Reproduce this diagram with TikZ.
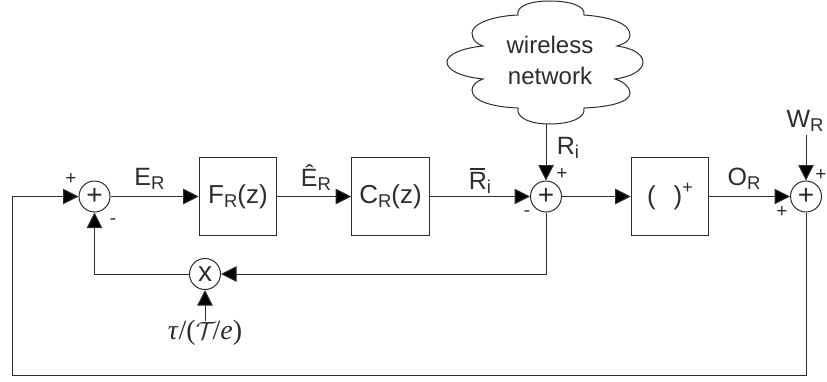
\documentclass[tikz,border=0pt]{standalone}
\usepackage{fontspec}
\setmainfont{Liberation Sans}
\newfontfamily\serifit{Liberation Serif}
\usetikzlibrary{arrows.meta}
\definecolor{ink}{RGB}{45,45,45}
\tikzset{
  x=1pt,y=-1pt,
  wire/.style={draw=ink,line width=1pt},
  arr/.style={wire,-{Triangle[length=15.5pt,width=15.5pt,fill=black]}},
  sumnode/.style={circle,draw=ink,line width=1pt,minimum size=31pt,inner sep=0pt,font=\fontsize{28}{28}\selectfont,text=ink},
  blockbox/.style={rectangle,draw=ink,line width=1.1pt,minimum width=77.5pt,minimum height=77.5pt,inner sep=0pt,font=\fontsize{26}{26}\selectfont,text=ink},
  lab/.style={inner sep=0pt,font=\fontsize{25}{25}\selectfont,text=ink},
  sgn/.style={inner sep=0pt,font=\fontsize{19}{19}\selectfont,text=ink}
}
\newcommand{\sbs}[1]{\raisebox{-4.5pt}{\fontsize{18.5}{18.5}\selectfont #1}}
\begin{document}
\begin{tikzpicture}
\useasboundingbox (0,0) rectangle (827,381);
\node[sumnode] (s1) at (94.5,196.5) {+};
\node[sumnode] (s2) at (546,196.5) {+};
\node[sumnode] (s3) at (806,196.5) {+};
\node[sumnode] (m) at (205,274) {x};
\node[blockbox] (f) at (238,196.5) {F\sbs{R}(z)};
\node[blockbox] (c) at (390.5,196.5) {C\sbs{R}(z)};
\node[blockbox] (p) at (670,196.5) {(\hspace{18pt})\raisebox{11pt}{\fontsize{18}{18}\selectfont +}};
\draw[draw=ink,line width=1pt,fill=white] (518,15)
  .. controls (516,6) and (530,1) .. (550,1)
  .. controls (570,1) and (586,6) .. (584,15)
  .. controls (612,17) and (630,24) .. (630,35)
  .. controls (630,41) and (624,44) .. (617,46)
  .. controls (632,48) and (643,54) .. (643,62)
  .. controls (643,71) and (630,77) .. (615,79)
  .. controls (624,82) and (630,87) .. (630,93)
  .. controls (630,102) and (610,107) .. (584,108)
  .. controls (586,118) and (570,124) .. (550,124)
  .. controls (530,124) and (516,118) .. (518,108)
  .. controls (492,107) and (472,101) .. (472,90)
  .. controls (472,85) and (477,81) .. (483,79)
  .. controls (463,77) and (447,71) .. (447,62)
  .. controls (447,54) and (463,48) .. (483,46)
  .. controls (477,44) and (472,40) .. (472,33)
  .. controls (472,24) and (492,16) .. (518,15) -- cycle;
\coordinate (cb) at (546,124);
\node[lab,anchor=base,font=\fontsize{24}{24}\selectfont] (w1) at (550,53) {wireless};
\node[lab,anchor=base,font=\fontsize{24}{24}\selectfont] (w2) at (550,84) {network};
\coordinate (wr) at (806,135);
\coordinate (bl) at (12,375);
\coordinate (tin) at (205,321);
\draw[arr] (s1) -- (f);
\draw[arr] (f) -- (c);
\draw[arr] (c) -- (s2);
\draw[arr] (s2) -- (p);
\draw[arr] (p) -- (s3);
\draw[arr] (cb) -- (s2);
\draw[arr] (wr) -- (s3);
\draw[arr] (s2.south) |- (m);
\draw[arr] (m) -| (s1);
\draw[arr] (tin) -- (m);
\draw[wire] (s3.south) |- (bl) -- (12,196.5) coordinate (lft);
\draw[arr] (lft) -- (s1);
\node[lab,anchor=base] (er) at (149.5,185) {E\sbs{R}};
\node[lab,anchor=base] (eh) at (316,186) {Ê\sbs{R}};
\node[lab,anchor=base] (ri) at (480,189) {\makebox[0pt][l]{\kern1pt\raisebox{19.5pt}{\rule{15pt}{1.3pt}}}R\sbs{i}};
\node[lab,anchor=base] (rw) at (568,154) {R\sbs{i}};
\node[lab,anchor=base] (or) at (744,185) {O\sbs{R}};
\node[lab,anchor=base] (wl) at (805,127) {W\sbs{R}};
\node[sgn] (a1) at (71,179) {+};
\node[sgn] (a2) at (113,222) {-};
\node[sgn] (a3) at (562,174) {+};
\node[sgn] (a4) at (527,214) {-};
\node[sgn] (a5) at (782,212) {+};
\node[sgn] (a6) at (821,175) {+};
\node[inner sep=0pt,font=\fontsize{28}{28}\selectfont\serifit,text=ink] (tau) at (205,333) {\textit{τ}/($\mathcal{T}$\kern-3pt/\textit{e})};
\end{tikzpicture}
\end{document}
